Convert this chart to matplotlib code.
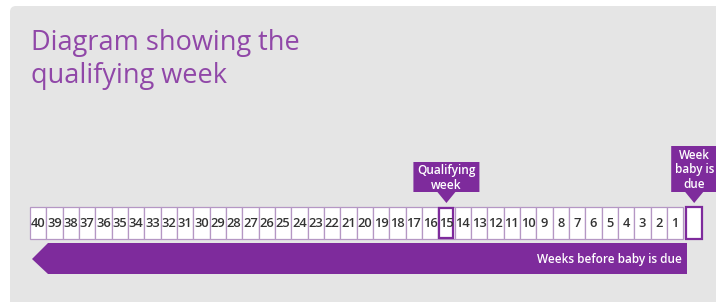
import matplotlib
matplotlib.use("Agg")
import matplotlib.pyplot as plt
from matplotlib.patches import Rectangle, Polygon, FancyBboxPatch

weeks = list(range(40, 0, -1))
qualifying_week = 15
title_lines = ["Diagram showing the", "qualifying week"]
qual_label = "Qualifying\nweek"
due_label = "Week\nbaby is\ndue"
arrow_label = "Weeks before baby is due"

PURPLE = "#7e2b9c"
TITLE_C = "#9047a8"
GRAY = "#e5e5e5"
BORDER = "#b597c4"

W, H = 716, 302
fig = plt.figure(figsize=(W / 100, H / 100), dpi=100)
ax = fig.add_axes([0, 0, 1, 1])
ax.set_xlim(0, W)
ax.set_ylim(H, 0)
ax.axis("off")
fig.patch.set_facecolor("white")

# panel
ax.add_patch(FancyBboxPatch((10, 6), 740, 330, boxstyle="round,pad=0,rounding_size=6",
                            fc=GRAY, ec="none"))

for k, line in enumerate(title_lines):
    ax.text(31, 50 + k * 33, line, color=TITLE_C, fontsize=19.5, family="Open Sans",
            va="baseline", ha="left")

x0, bw, y0, bh = 30, 16.33, 207, 32
for i, w in enumerate(weeks):
    x = x0 + i * bw
    ax.add_patch(Rectangle((x, y0), bw, bh, fc="white", ec=BORDER, lw=0.9))
    ax.text(x + bw / 2, y0 + bh / 2 + 0.5, str(w), ha="center", va="center",
            fontsize=9.3, color="#333333", family="Open Sans", fontweight="semibold")
    if w == qualifying_week:
        qx = x
# qualifying box highlight
ax.add_patch(Rectangle((qx + 1.2, y0 + 1.2), bw - 2.4, bh - 2.4, fc="none", ec=PURPLE, lw=1.6))
# due box
dx = x0 + len(weeks) * bw + 3
ax.add_patch(Rectangle((dx, y0), 16, bh, fc="white", ec=PURPLE, lw=1.6))

# qualifying marker
qc = qx + bw / 2
ax.add_patch(Polygon([(qc - 33, 162), (qc + 33, 162), (qc + 33, 192), (qc + 9, 192),
                      (qc, 203), (qc - 9, 192), (qc - 33, 192)], closed=True, fc=PURPLE, ec="none"))
ax.text(qc, 178, qual_label, ha="center", va="center", color="white", fontsize=8.6,
        family="Open Sans", fontweight="semibold", linespacing=1.2)

# due marker
dc = dx + 8
ax.add_patch(Polygon([(dc - 23, 146), (dc + 23, 146), (dc + 23, 192), (dc + 9, 192),
                      (dc, 203), (dc - 9, 192), (dc - 23, 192)], closed=True, fc=PURPLE, ec="none"))
ax.text(dc, 170, due_label, ha="center", va="center", color="white", fontsize=8.4,
        family="Open Sans", fontweight="semibold", linespacing=1.15)

# arrow
ax.add_patch(Polygon([(32, 259), (48, 243), (687, 243), (687, 274), (48, 274)], closed=True,
                     fc=PURPLE, ec="none"))
ax.text(682, 259, arrow_label, ha="right", va="center", color="white", fontsize=8.5,
        family="Open Sans", fontweight="semibold")

fig.savefig("out.png", dpi=100)
